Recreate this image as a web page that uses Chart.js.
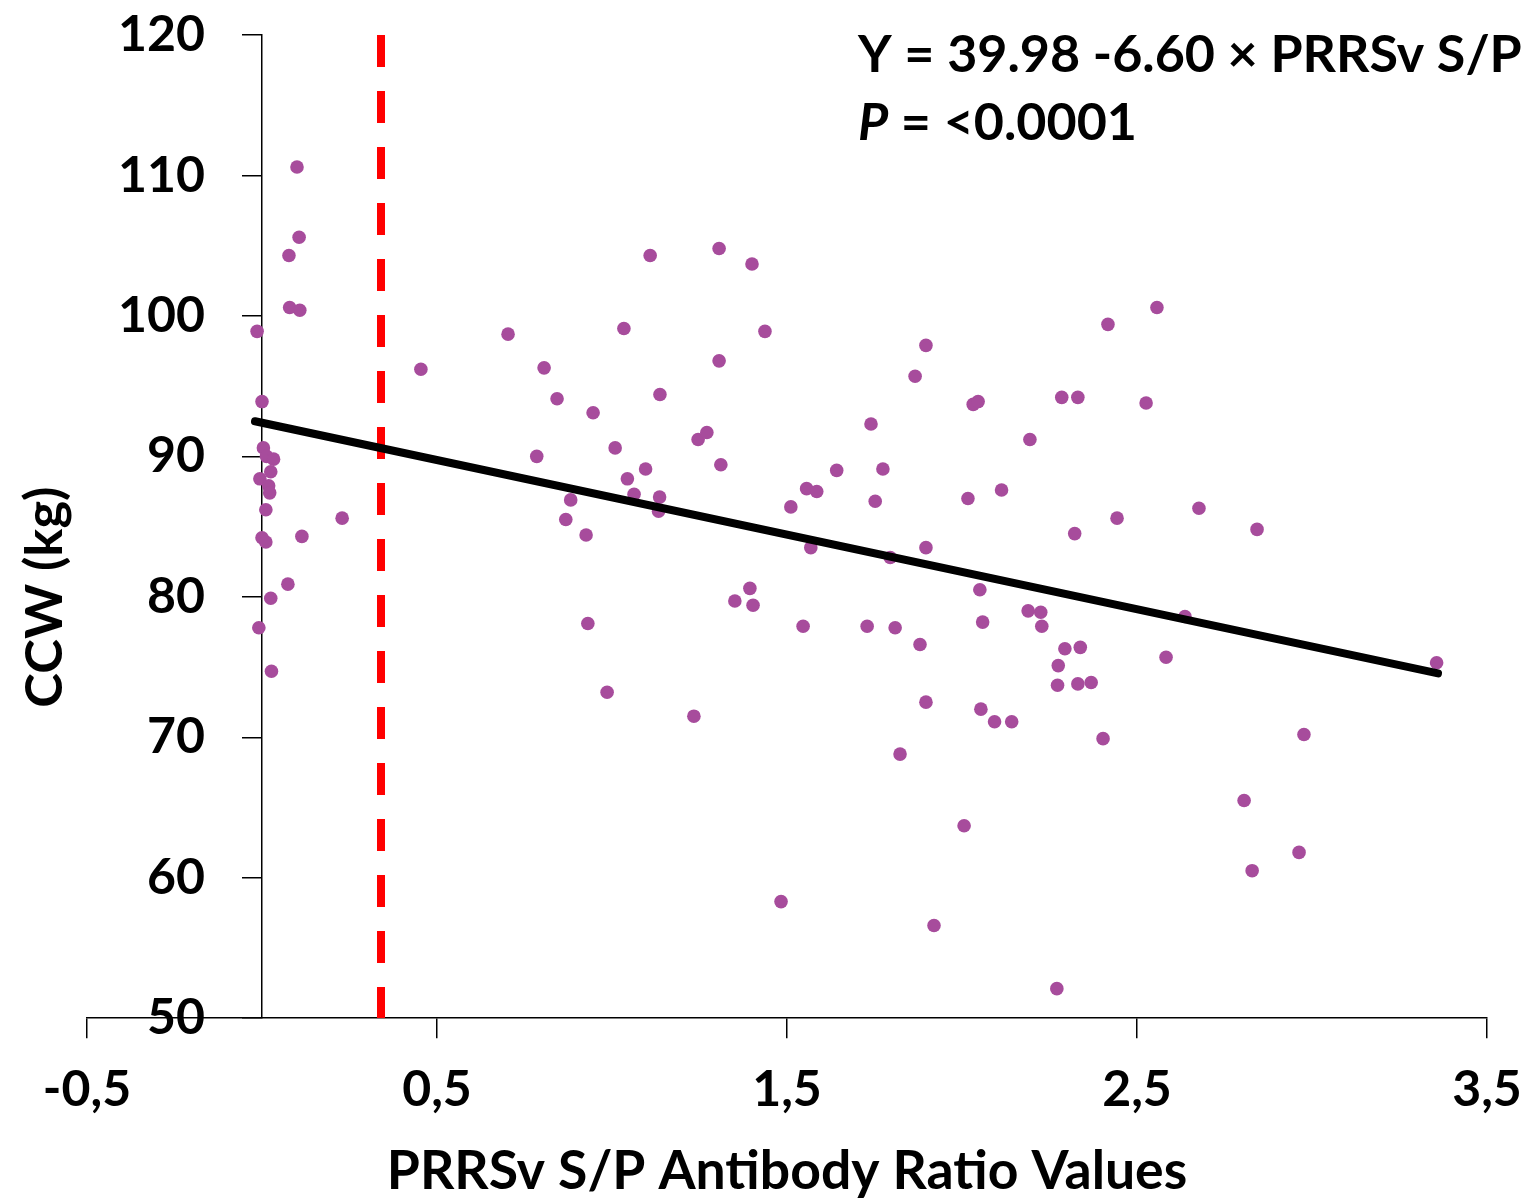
<!DOCTYPE html>
<html>
<head>
<meta charset="utf-8">
<script src="https://cdn.jsdelivr.net/npm/chart.js@4.4.0/dist/chart.umd.min.js"></script>
<style>
  body { margin: 0; background: #fff; }
</style>
</head>
<body>
<canvas id="grafico" width="1536" height="1204"></canvas>
<script>
// PRRSv S/P (x) y CCW en kg (y)
const spRatio = [
  0.100, 0.106, 0.077, 0.079, 0.108, -0.014, 0.000, 0.004, 0.013, 0.033,
  0.025, -0.006, 0.019, 0.022, 0.011, 0.229, 0.114, 0.000, 0.011, 0.074,
  0.025, -0.009, 0.027,
  0.454, 0.703, 0.806, 0.843, 0.785, 0.882, 0.868, 0.926, 0.946, 0.931,
  0.986, 1.009, 1.034, 1.044, 1.063, 1.096, 1.109, 1.137, 1.136, 1.133,
  1.234, 1.246, 1.271, 1.306, 1.306, 1.311, 1.351, 1.394, 1.403, 1.400,
  1.437, 1.483, 1.511, 1.546, 1.556, 1.585, 1.568, 1.642, 1.729, 1.740,
  1.752, 1.774, 1.795, 1.809, 1.823, 1.866, 1.880, 1.897, 1.897, 1.897,
  1.920, 2.006, 2.017, 2.032, 2.046, 2.051, 2.054, 2.059, 2.093, 2.113,
  2.142, 2.189, 2.194, 2.225, 2.228, 2.275, 2.273, 2.271, 2.285, 2.294,
  2.322, 2.331, 2.331, 2.338, 2.369, 2.403, 2.417, 2.443, 2.526, 2.557,
  2.583, 2.637, 2.677, 2.806, 2.829, 2.843, 2.963, 2.977, 3.356
]
const ccw = [
  110.6, 105.6, 104.3, 100.6, 100.4, 98.9, 93.9, 90.6, 90.0, 89.8,
  88.9, 88.4, 87.9, 87.4, 86.2, 85.6, 84.3, 84.2, 83.9, 80.9,
  79.9, 77.8, 74.7,
  96.2, 98.7, 96.3, 94.1, 90.0, 86.9, 85.5, 84.4, 93.1, 78.1,
  73.2, 90.6, 99.1, 88.4, 87.3, 89.1, 104.3, 94.4, 87.1, 86.1,
  71.5, 91.2, 91.7, 104.8, 96.8, 89.4, 79.7, 80.6, 79.4, 103.7,
  98.9, 58.3, 86.4, 77.9, 87.7, 87.5, 83.5, 89.0, 77.9, 92.3,
  86.8, 89.1, 82.8, 77.8, 68.8, 95.7, 76.6, 97.9, 83.5, 72.5,
  56.6, 63.7, 87.0, 93.7, 93.9, 80.5, 72.0, 78.2, 71.1, 87.6,
  71.1, 79.0, 91.2, 78.9, 77.9, 75.1, 73.7, 52.1, 94.2, 76.3,
  84.5, 94.2, 73.8, 76.4, 73.9, 69.9, 99.4, 85.6, 93.8, 100.6,
  75.7, 78.6, 86.3, 65.5, 60.5, 84.8, 61.8, 70.2, 75.3
]

// recta de regresion (extremos) y punto de corte
const rectaX = [-0.02, 3.36]
const rectaY = [92.5, 74.55]
const corteX = 0.34

const xTicks = [-0.5, 0.5, 1.5, 2.5, 3.5]
const xTickLabels = ['-0,5', '0,5', '1,5', '2,5', '3,5']
const yMin = 50
const yMax = 120

const ecuacion = 'Y = 39.98 -6.60 \u00d7 PRRSv S/P'
const valorP = ' = <0.0001'

const puntos = spRatio.map((x, i) => ({ x: x, y: ccw[i] }))
const recta = rectaX.map((x, i) => ({ x: x, y: rectaY[i] }))
// de arriba hacia abajo para que el trazo empiece arriba
const corte = [{ x: corteX, y: yMax }, { x: corteX, y: yMin }]

const fuente = 'Lato'

const textoEcuacion = {
  id: 'textoEcuacion',
  afterDraw(chart) {
    const ctx = chart.ctx
    ctx.save()
    ctx.fillStyle = '#000'
    ctx.textBaseline = 'alphabetic'
    ctx.textAlign = 'left'
    ctx.font = 'bold 52px ' + fuente
    ctx.fillText(ecuacion, 858, 72)
    ctx.font = 'italic bold 52px ' + fuente
    ctx.fillText('P', 858, 140)
    const w = ctx.measureText('P').width
    ctx.font = 'bold 52px ' + fuente
    ctx.fillText(valorP, 858 + w, 140)
    ctx.restore()
  }
}

// el eje Y va en x = 0: separar sus etiquetas de las marcas, y bajar el titulo
const ajusteEjes = {
  id: 'ajusteEjes',
  afterLayout(chart) {
    chart.scales.yTitulo.top += 141
  },
  afterUpdate(chart) {
    chart.scales.y.getLabelItems().forEach(item => { item.options.translation[0] -= 57 })
  }
}

new Chart(document.getElementById('grafico'), {
  type: 'scatter',
  data: {
    datasets: [{
      type: 'line',
      data: recta,
      borderColor: '#000',
      borderWidth: 8,
      borderCapStyle: 'round',
      pointRadius: 0,
      fill: false
    }, {
      type: 'line',
      data: corte,
      borderColor: '#ff0000',
      borderWidth: 8,
      borderDash: [32, 24],
      pointRadius: 0,
      fill: false
    }, {
      data: puntos,
      backgroundColor: '#a74c9c',
      borderWidth: 0,
      pointRadius: 6.8
    }]
  },
  options: {
    responsive: false,
    animation: false,
    layout: { padding: { left: 13.5, right: 49, top: 35, bottom: 0 } },
    plugins: { legend: { display: false }, tooltip: { enabled: false } },
    scales: {
      x: {
        type: 'linear',
        min: -0.5,
        max: 3.5,
        afterBuildTicks: (scale) => { scale.ticks = xTicks.map(v => ({ value: v })) },
        grid: { drawOnChartArea: false, color: '#000', lineWidth: 1.5, tickLength: 20 },
        border: { color: '#000', width: 1.5 },
        ticks: {
          color: '#000',
          padding: 12,
          maxRotation: 0,
          font: { family: fuente, size: 50, weight: 'bold', lineHeight: 1.6 },
          callback: (v, i) => xTickLabels[i]
        },
        title: {
          display: true,
          text: 'PRRSv S/P Antibody Ratio Values',
          color: '#000',
          padding: { top: 0, bottom: 3 },
          font: { family: fuente, size: 53.5, weight: 'bold', lineHeight: 1.1 }
        }
      },
      y: {
        type: 'linear',
        position: { x: 0 },
        min: yMin,
        max: yMax,
        grid: { drawOnChartArea: false, color: '#000', lineWidth: 1.5, tickLength: 19 },
        border: { color: '#000', width: 1.5 },
        ticks: {
          stepSize: 10,
          color: '#000',
          padding: 0,
          font: { family: fuente, size: 50, weight: 'bold' }
        }
      },
      yTitulo: {
        type: 'linear',
        axis: 'y',
        position: 'left',
        grid: { display: false, drawTicks: false },
        border: { display: false },
        ticks: { display: false },
        title: {
          display: true,
          text: 'CCW (kg)',
          color: '#000',
          padding: { top: 0, bottom: 10.5 },
          font: { family: fuente, size: 52.5, weight: 'bold' }
        }
      }
    }
  },
  plugins: [textoEcuacion, ajusteEjes]
})
</script>
</body>
</html>
